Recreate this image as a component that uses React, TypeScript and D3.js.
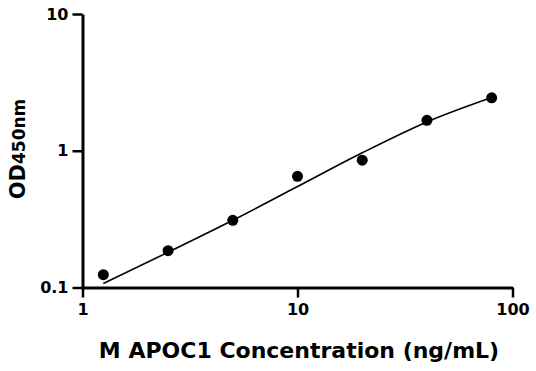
import React, { useEffect, useRef } from 'react'
import * as d3 from 'd3'

// measured standards
const concentrations = [1.25, 2.5, 5, 10, 20, 40, 80]
const odValues = [0.124, 0.186, 0.31, 0.65, 0.853, 1.67, 2.44]

// fitted curve
const fitX = [1.25, 2.5, 5, 10, 20, 40, 80]
const fitY = [0.107, 0.181, 0.31, 0.547, 0.966, 1.625, 2.45]

const xTicks = [1, 10, 100]
const yTicks = [0.1, 1, 10]

const W = 536
const H = 371
const FONT = "'DejaVu Sans', sans-serif"

const App: React.FC = () => {
  const ref = useRef<SVGSVGElement>(null)

  useEffect(() => {
    if (!ref.current) return
    const svg = d3.select(ref.current)
    svg.selectAll('*').remove()

    const x = d3.scaleLog().domain([1, 100]).range([82.5, 512.5])
    const y = d3.scaleLog().domain([0.1, 10]).range([287.5, 14])

    const xAxis = svg.append('g')
      .attr('transform', `translate(0,${y(0.1)})`)
      .call(d3.axisBottom(x).tickValues(xTicks).tickFormat(d3.format('~g')).tickSize(10).tickPadding(6).tickSizeOuter(0))
    const yAxis = svg.append('g')
      .attr('transform', `translate(${x(1)},0)`)
      .call(d3.axisLeft(y).tickValues(yTicks).tickFormat(d3.format('~g')).tickSize(10).tickPadding(4).tickSizeOuter(0))

    for (const ax of [xAxis, yAxis]) {
      ax.select('.domain').attr('stroke', '#000').attr('stroke-width', 3)
      ax.selectAll('.tick line').attr('stroke', '#000').attr('stroke-width', 2.5)
      ax.selectAll('.tick text')
        .attr('fill', '#000')
        .attr('font-family', FONT)
        .attr('font-weight', 700)
        .attr('font-size', 16)
    }

    const fit = fitX.map((v, i) => [v, fitY[i]] as [number, number])
    svg.append('path')
      .datum(fit)
      .attr('fill', 'none')
      .attr('stroke', '#000')
      .attr('stroke-width', 1.6)
      .attr('d', d3.line<[number, number]>()
        .x(d => x(d[0]))
        .y(d => y(d[1]))
        .curve(d3.curveMonotoneX))

    svg.append('g')
      .selectAll('circle')
      .data(concentrations)
      .enter().append('circle')
      .attr('cx', d => x(d))
      .attr('cy', (d, i) => y(odValues[i]))
      .attr('r', 5.5)
      .attr('fill', '#000')

    svg.append('text')
      .attr('x', 299)
      .attr('y', 358)
      .attr('text-anchor', 'middle')
      .attr('font-family', FONT)
      .attr('font-weight', 700)
      .attr('font-size', 22)
      .text('M APOC1 Concentration (ng/mL)')

    const yl = svg.append('text')
      .attr('transform', 'translate(25,149) rotate(-90)')
      .attr('text-anchor', 'middle')
      .attr('font-family', FONT)
      .attr('font-weight', 700)
    yl.append('tspan').attr('font-size', 21).text('OD')
    yl.append('tspan').attr('font-size', 17).text('450nm')
  }, [])

  return (
    <svg ref={ref} width={W} height={H}
      style={{ position: 'absolute', left: 0, top: 0, background: '#fff' }} />
  )
}

export default App
